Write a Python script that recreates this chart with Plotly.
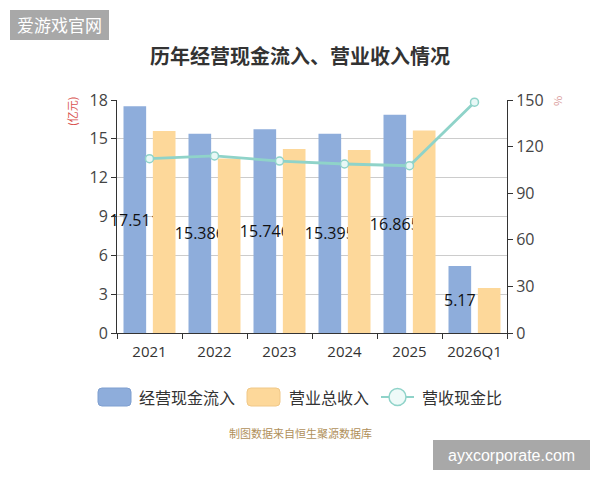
import plotly.graph_objects as go

categories = ["2021", "2022", "2023", "2024", "2025", "2026Q1"]
cash_inflow = [17.511, 15.386, 15.746, 15.395, 16.865, 5.17]
revenue = [15.60, 13.49, 14.22, 14.14, 15.65, 3.48]
ratio = [112.2, 114.0, 110.7, 108.8, 107.7, 148.6]

series_names = ["经营现金流入", "营业总收入", "营收现金比"]
title_text = "历年经营现金流入、营业收入情况"
source_text = "制图数据来自恒生聚源数据库"

BLUE = "#8eaddb"
YELLOW = "#fdd89a"
TEAL = "#8fd3c9"
FONT = "Open Sans, Noto Sans CJK SC, sans-serif"
CJK = "Noto Sans CJK SC, sans-serif"

# plot area in pixels
L, R, T, B = 117, 507, 100, 333
W, H = R - L, B - T


def px(x):
    return (x - L) / W


def py(y):
    return (B - y) / H


def label(text, x, y, size, color, family=CJK, xanchor="center", angle=0):
    return dict(text=text, xref="paper", yref="paper", x=px(x), y=py(y),
                xanchor=xanchor, yanchor="middle", showarrow=False,
                textangle=angle, font=dict(family=family, size=size, color=color))


fig = go.Figure()
fig.add_trace(go.Bar(
    x=categories, y=cash_inflow, name=series_names[0],
    marker=dict(color=BLUE, line=dict(width=0)),
    text=[f"{v}" for v in cash_inflow], textposition="inside",
    insidetextanchor="middle", constraintext="none", textangle=0,
    insidetextfont=dict(color="#111111", size=16, family=FONT),
    cliponaxis=False, showlegend=False,
))
fig.add_trace(go.Bar(
    x=categories, y=revenue, name=series_names[1],
    marker=dict(color=YELLOW, line=dict(width=0)),
    showlegend=False,
))
fig.add_trace(go.Scatter(
    x=categories, y=ratio, name=series_names[2], yaxis="y2",
    mode="lines+markers",
    line=dict(color=TEAL, width=2.8),
    marker=dict(symbol="circle", size=8, color="#e8f8f6",
                line=dict(color=TEAL, width=1.5)),
    cliponaxis=False, showlegend=False,
))

shapes = []
annotations = []

# watermark boxes
shapes.append(dict(type="rect", xref="paper", yref="paper",
                   x0=px(10), x1=px(109), y0=py(40), y1=py(10),
                   fillcolor="#a8a8a8", line=dict(width=0), layer="above"))
annotations.append(label("爱游戏官网", 59.5, 25, 17, "white"))
shapes.append(dict(type="rect", xref="paper", yref="paper",
                   x0=px(433), x1=px(590), y0=py(470), y1=py(440),
                   fillcolor="#a8a8a8", line=dict(width=0), layer="above"))
annotations.append(label("ayxcorporate.com", 511.5, 455, 16, "white",
                         family="Liberation Sans, Arial"))

# title
annotations.append(label(f"<b>{title_text}</b>", 300, 56, 20, "#333333"))

# axis unit labels
annotations.append(label("(亿元)", 72, 112, 11, "#d9534f", angle=-90))
annotations.append(label("%", 557, 101, 11, "#d99a9a", angle=-90))


# custom legend
def rounded_rect(x0, y0, x1, y1, r):
    a0, a1 = px(x0), px(x1)
    b0, b1 = py(y1), py(y0)  # bottom, top in paper
    rx, ry = r / W, r / H
    return (f"M{a0+rx},{b1} L{a1-rx},{b1} Q{a1},{b1} {a1},{b1-ry} "
            f"L{a1},{b0+ry} Q{a1},{b0} {a1-rx},{b0} L{a0+rx},{b0} "
            f"Q{a0},{b0} {a0},{b0+ry} L{a0},{b1-ry} Q{a0},{b1} {a0+rx},{b1} Z")


LEG_Y = 397
shapes.append(dict(type="path", xref="paper", yref="paper",
                   path=rounded_rect(98, 388, 131, 406, 4),
                   fillcolor=BLUE, line=dict(color="#7f9fd0", width=1)))
annotations.append(label(series_names[0], 137, LEG_Y, 16, "#333333", xanchor="left"))
shapes.append(dict(type="path", xref="paper", yref="paper",
                   path=rounded_rect(247, 388, 280, 406, 4),
                   fillcolor=YELLOW, line=dict(color="#f0c888", width=1)))
annotations.append(label(series_names[1], 287, LEG_Y, 16, "#333333", xanchor="left"))
shapes.append(dict(type="line", xref="paper", yref="paper",
                   x0=px(381), x1=px(414), y0=py(LEG_Y), y1=py(LEG_Y),
                   line=dict(color=TEAL, width=2)))
shapes.append(dict(type="circle", xref="paper", yref="paper",
                   x0=px(389), x1=px(406), y0=py(LEG_Y + 8.5), y1=py(LEG_Y - 8.5),
                   fillcolor="#eefaf8", line=dict(color=TEAL, width=1.5)))
annotations.append(label(series_names[2], 420, LEG_Y, 16, "#333333", xanchor="left"))

# source
annotations.append(label(source_text, 300, 433, 11, "#b0905a"))

fig.update_layout(
    width=600, height=480,
    margin=dict(l=L, r=600 - R, t=T, b=480 - B),
    paper_bgcolor="white", plot_bgcolor="white",
    barmode="group", bargap=0.097, bargroupgap=0.228,
    showlegend=False,
    font=dict(family=FONT, color="#444444"),
    xaxis=dict(
        type="category", showline=True, linecolor="#333333", linewidth=1,
        ticks="outside", tickson="boundaries", ticklen=5, tickcolor="#333333",
        tickfont=dict(size=15, color="#333333"), showgrid=False,
        ticklabelstandoff=5,
    ),
    yaxis=dict(
        range=[0, 18], dtick=3, tick0=0, showline=True, linecolor="#333333",
        linewidth=1, ticks="outside", ticklen=5, tickcolor="#333333",
        tickfont=dict(size=16, color="#444444"),
        showgrid=True, gridcolor="#cccccc", gridwidth=1, zeroline=False,
    ),
    yaxis2=dict(
        range=[0, 150], dtick=30, tick0=0, overlaying="y", side="right",
        showline=True, linecolor="#333333", linewidth=1, ticks="outside",
        ticklen=5, tickcolor="#333333", tickfont=dict(size=16, color="#444444"),
        showgrid=False, zeroline=False,
    ),
    shapes=shapes,
    annotations=annotations,
)

fig.write_html("out.html")
